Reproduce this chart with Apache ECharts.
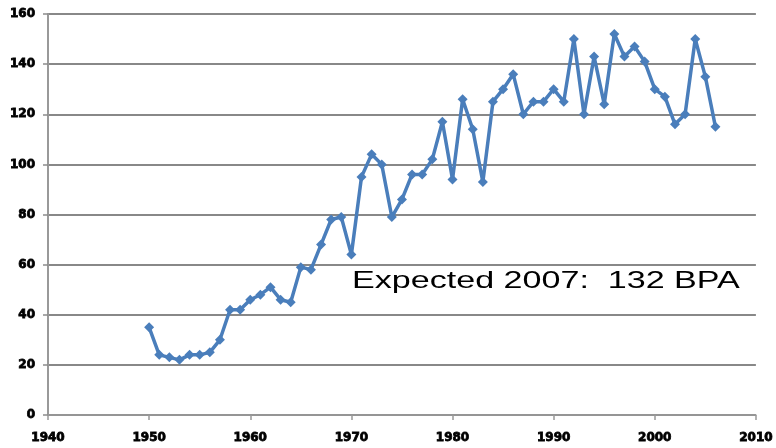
<!DOCTYPE html>
<html>
<head>
<meta charset="utf-8">
<script src="https://cdn.jsdelivr.net/npm/echarts@6/dist/echarts.min.js"></script>
<style>html,body{margin:0;padding:0;background:#fff}#c{width:776px;height:448px}</style>
</head>
<body>
<div id="c"></div>
<script>
var years = [1950,1951,1952,1953,1954,1955,1956,1957,1958,1959,
             1960,1961,1962,1963,1964,1965,1966,1967,1968,1969,
             1970,1971,1972,1973,1974,1975,1976,1977,1978,1979,
             1980,1981,1982,1983,1984,1985,1986,1987,1988,1989,
             1990,1991,1992,1993,1994,1995,1996,1997,1998,1999,
             2000,2001,2002,2003,2004,2005,2006];
var values = [35,24,23,22,24,24,25,30,42,42,
              46,48,51,46,45,59,58,68,78,79,
              64,95,104,100,79,86,96,96,102,117,
              94,126,114,93,125,130,136,120,125,125,
              130,125,150,120,143,124,152,143,147,141,
              130,127,116,120,150,135,115];
var annotation = "Expected 2007:  132 BPA";

var chart = echarts.init(document.getElementById('c'));
var labelStyle = {color:'#000', fontFamily:'DejaVu Sans', fontWeight:'bold', fontSize:12,
  textBorderColor:'#000', textBorderWidth:0.8};
chart.setOption({
  animation:false,
  grid:{left:48, right:8.5, top:14, bottom:33},
  xAxis:{type:'value', min:1940, max:2010, interval:10,
    axisLine:{lineStyle:{color:'#999', width:1.5}},
    axisTick:{show:true, length:5, lineStyle:{color:'#999', width:1.5}},
    splitLine:{show:false},
    axisLabel:Object.assign({margin:17, formatter:function(v){return String(v);}}, labelStyle)},
  yAxis:{type:'value', min:0, max:160, interval:20,
    axisLine:{show:true, lineStyle:{color:'#999', width:2}},
    axisTick:{show:true, length:5, lineStyle:{color:'#8c8c8c', width:1.5}},
    splitLine:{lineStyle:{color:'#888', width:1.8}},
    axisLabel:Object.assign({margin:13}, labelStyle)},
  series:[{type:'line', data:years.map(function(y,i){return [y, values[i]];}),
    symbol:'diamond', symbolSize:10,
    lineStyle:{color:'#4a7ebb', width:3.5},
    itemStyle:{color:'#4a7ebb'}}],
  graphic:[{type:'text', x:352, y:281, scaleX:1.42,
    style:{text:annotation, x:0, y:0, fill:'#000', font:'24px "Liberation Sans"', verticalAlign:'middle', align:'left'}}]
});
</script>
</body>
</html>
